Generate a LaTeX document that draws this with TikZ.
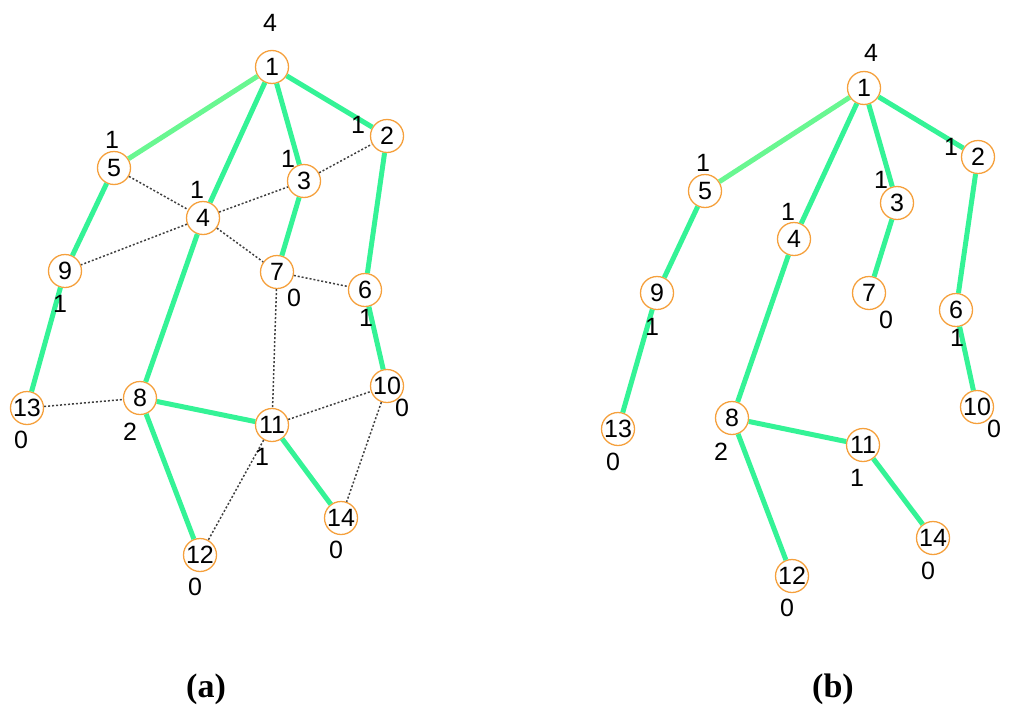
\documentclass[tikz,border=0pt]{standalone}
\usepackage{fontspec}
\setmainfont{Liberation Sans}
\newfontfamily\capfont{Liberation Serif}
\definecolor{edgegreen}{RGB}{52,243,150}
\definecolor{lightgreen}{RGB}{105,247,145}
\definecolor{nodeorange}{RGB}{245,160,60}
\begin{document}
\begin{tikzpicture}[x=1pt,y=-1pt,
  vtx/.style={circle,draw=nodeorange,fill=white,line width=1.3pt,minimum size=33pt,inner sep=0pt,font=\fontsize{25}{25}\selectfont},
  deg/.style={inner sep=0pt,font=\fontsize{25}{25}\selectfont},
  tree/.style={draw=edgegreen,line width=5pt},
  treel/.style={draw=lightgreen,line width=5pt},
  nontree/.style={draw=black!75,line width=1.5pt,dash pattern=on 2pt off 2pt},
  captext/.style={inner sep=0pt,font=\capfont\bfseries\fontsize{34}{34}\selectfont}]
\useasboundingbox (0,0) rectangle (1024,720);
% ---------- (a) ----------
\node[vtx] (a1) at (272,67) {1};
\node[vtx] (a2) at (387,136) {2};
\node[vtx] (a3) at (304,181) {3};
\node[vtx] (a4) at (203,218) {4};
\node[vtx] (a5) at (114,168) {5};
\node[vtx] (a6) at (365,290) {6};
\node[vtx] (a7) at (277,272) {7};
\node[vtx] (a8) at (140,398) {8};
\node[vtx] (a9) at (65,271) {9};
\node[vtx] (a10) at (387,386) {10};
\node[vtx] (a11) at (272,425) {11};
\node[vtx] (a12) at (200,555) {12};
\node[vtx] (a13) at (27,408) {13};
\node[vtx] (a14) at (341,518) {14};
\path[treel] (a1) -- (a5);
\path[tree] (a1) -- (a4);
\path[tree] (a1) -- (a3);
\path[tree] (a1) -- (a2);
\path[tree] (a5) -- (a9);
\path[tree] (a9) -- (a13);
\path[tree] (a4) -- (a8);
\path[tree] (a3) -- (a7);
\path[tree] (a2) -- (a6);
\path[tree] (a6) -- (a10);
\path[tree] (a8) -- (a11);
\path[tree] (a8) -- (a12);
\path[tree] (a11) -- (a14);
\path[nontree] (a5) -- (a4);
\path[nontree] (a4) -- (a7);
\path[nontree] (a4) -- (a3);
\path[nontree] (a3) -- (a2);
\path[nontree] (a4) -- (a9);
\path[nontree] (a7) -- (a6);
\path[nontree] (a7) -- (a11);
\path[nontree] (a13) -- (a8);
\path[nontree] (a11) -- (a10);
\path[nontree] (a10) -- (a14);
\path[nontree] (a11) -- (a12);
\node[deg] (da1) at (270,23) {4};
\node[deg] (da2) at (358,125) {1};
\node[deg] (da3) at (288,159) {1};
\node[deg] (da4) at (197,190) {1};
\node[deg] (da5) at (112,140) {1};
\node[deg] (da9) at (60,304) {1};
\node[deg] (da7) at (294,298) {0};
\node[deg] (da6) at (366,318) {1};
\node[deg] (da13) at (21,440) {0};
\node[deg] (da8) at (130,432) {2};
\node[deg] (da11) at (262,457) {1};
\node[deg] (da10) at (402,408) {0};
\node[deg] (da14) at (336,550) {0};
\node[deg] (da12) at (195,587) {0};
% ---------- (b) ----------
\node[vtx] (b1) at (864,88) {1};
\node[vtx] (b2) at (978,157) {2};
\node[vtx] (b3) at (897,203) {3};
\node[vtx] (b4) at (794,239) {4};
\node[vtx] (b5) at (705,191) {5};
\node[vtx] (b6) at (956,310) {6};
\node[vtx] (b7) at (869,293) {7};
\node[vtx] (b8) at (732,418) {8};
\node[vtx] (b9) at (657,293) {9};
\node[vtx] (b10) at (977,407) {10};
\node[vtx] (b11) at (863,445) {11};
\node[vtx] (b12) at (792,576) {12};
\node[vtx] (b13) at (618,429) {13};
\node[vtx] (b14) at (933,538) {14};
\path[treel] (b1) -- (b5);
\path[tree] (b1) -- (b4);
\path[tree] (b1) -- (b3);
\path[tree] (b1) -- (b2);
\path[tree] (b5) -- (b9);
\path[tree] (b9) -- (b13);
\path[tree] (b4) -- (b8);
\path[tree] (b3) -- (b7);
\path[tree] (b2) -- (b6);
\path[tree] (b6) -- (b10);
\path[tree] (b8) -- (b11);
\path[tree] (b8) -- (b12);
\path[tree] (b11) -- (b14);
\node[deg] (db1) at (871,53) {4};
\node[deg] (db5) at (703,163) {1};
\node[deg] (db4) at (788,212) {1};
\node[deg] (db3) at (881,180) {1};
\node[deg] (db2) at (951,147) {1};
\node[deg] (db9) at (652,327) {1};
\node[deg] (db7) at (886,320) {0};
\node[deg] (db6) at (957,338) {1};
\node[deg] (db10) at (994,429) {0};
\node[deg] (db13) at (613,462) {0};
\node[deg] (db8) at (721,452) {2};
\node[deg] (db11) at (857,478) {1};
\node[deg] (db14) at (928,571) {0};
\node[deg] (db12) at (787,608) {0};
% captions
\node[captext] (capa) at (206,689) {(a)};
\node[captext] (capb) at (833,689) {(b)};
\end{tikzpicture}
\end{document}
